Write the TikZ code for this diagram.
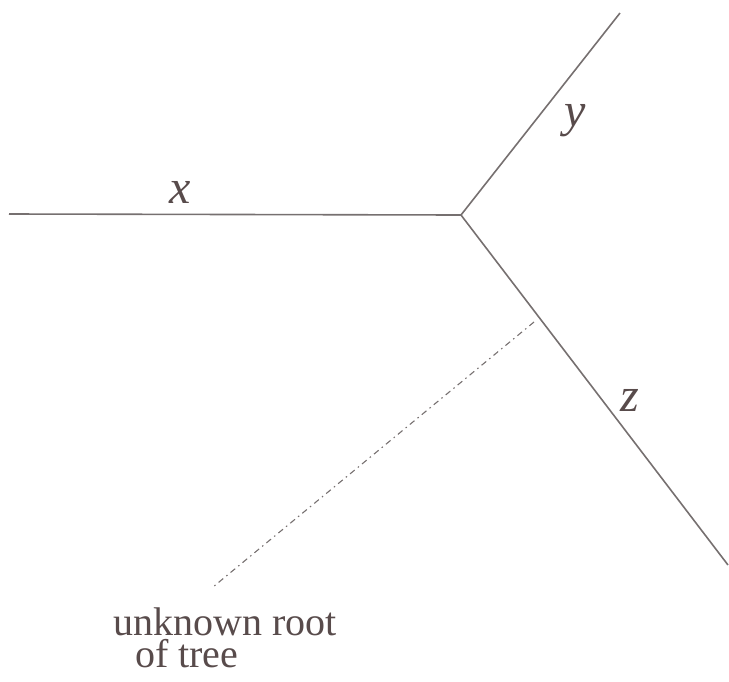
\documentclass[tikz,border=0pt]{standalone}
\usepackage{fontspec}
\setmainfont{Liberation Serif}
\newfontfamily\treefont{Liberation Serif}
\usetikzlibrary{positioning}
\definecolor{edgegray}{HTML}{767070}
\definecolor{inkgray}{HTML}{584B4B}

\begin{document}
\begin{tikzpicture}[x=1pt, y=-1pt,
  branch/.style={draw=edgegray, line width=1.6pt},
  rootline/.style={draw=edgegray, line width=1.1pt, dash pattern=on 6pt off 4pt on 1.5pt off 4pt},
  leaflabel/.style={text=inkgray, font=\treefont\fontsize{48}{48}\selectfont\itshape, inner sep=0pt, anchor=base},
  note/.style={text=inkgray, font=\treefont\fontsize{40}{40}\selectfont, inner sep=0pt, anchor=base west, text height=24pt, text depth=2pt}]
  \useasboundingbox (0,0) rectangle (729,681);
  % tree
  \coordinate (c) at (461,215);
  \coordinate (xend) at (9,214);
  \coordinate (yend) at (620,13);
  \coordinate (zend) at (728,565);
  \coordinate (att) at (534,322);
  \coordinate (rootend) at (213,587);
  \draw[branch] (xend) -- (c);
  \draw[branch] (c) -- (yend);
  \draw[branch] (c) -- (zend);
  \draw[rootline] (att) -- (rootend);
  % labels
  \node[leaflabel] (xlab) at (180,203) {x};
  \node[leaflabel] (ylab) at (575,126) {y};
  \node[leaflabel] (zlab) at (630,411) {z};
  \node[note] (root) at (113,635) {unknown root};
  \node[note] (roottwo) at (135,667) {of tree};
\end{tikzpicture}
\end{document}
